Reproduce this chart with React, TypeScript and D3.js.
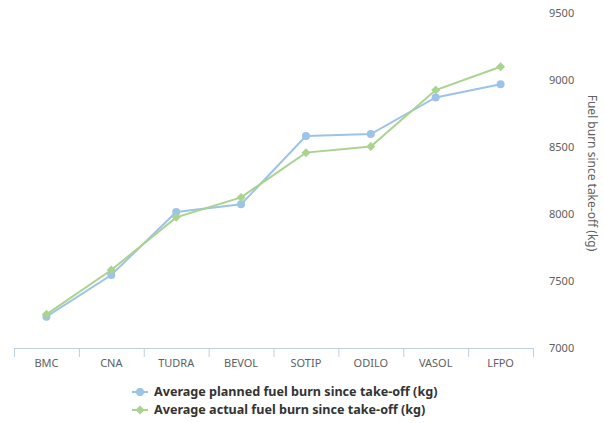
import React from "react";
import * as d3 from "d3";

const categories = ["BMC", "CNA", "TUDRA", "BEVOL", "SOTIP", "ODILO", "VASOL", "LFPO"];
const plannedValues = [7234, 7545, 8015, 8072, 8582, 8597, 8870, 8968];
const actualValues = [7251, 7582, 7975, 8124, 8458, 8503, 8925, 9099];
const yTicks = [7000, 7500, 8000, 8500, 9000, 9500];
const seriesNames = [
  "Average planned fuel burn since take-off (kg)",
  "Average actual fuel burn since take-off (kg)",
];
const yTitle = "Fuel burn since take-off (kg)";

const W = 605;
const H = 423;
const BLUE = "#9CC3E8";
const GREEN = "#A9D38E";
const FONT = "'Noto Sans', 'Open Sans', sans-serif";

export default function App() {
  const x = d3.scaleBand<string>().domain(categories).range([14, 533]);
  const y = d3.scaleLinear().domain([7000, 9500]).range([348, 13]);
  const cx = (c: string) => (x(c) as number) + x.bandwidth() / 2;
  const line = d3
    .line<number>()
    .x((_, i) => cx(categories[i]))
    .y((d) => y(d));
  const diamond = "M0,-4.5L4.5,0L0,4.5L-4.5,0Z";
  const boundaries = [...categories.map((c) => x(c) as number), 533];

  return (
    <svg
      width={W}
      height={H}
      style={{ position: "absolute", left: 0, top: 0, background: "#fff" }}
      fontFamily={FONT}
    >
      {/* x axis */}
      <line x1={14} x2={533} y1={348.5} y2={348.5} stroke="#C0D0E0" strokeWidth={1} />
      {boundaries.map((b, i) => (
        <line key={i} x1={b + 0.5} x2={b + 0.5} y1={348} y2={357} stroke="#C0D0E0" strokeWidth={1} />
      ))}
      {categories.map((c) => (
        <text key={c} x={cx(c)} y={367} textAnchor="middle" fontSize={11} fill="#606060">
          {c}
        </text>
      ))}
      {/* y axis labels */}
      {yTicks.map((t) => (
        <text key={t} x={549} y={y(t) + 4} textAnchor="start" fontSize={11} fill="#606060">
          {t}
        </text>
      ))}
      <text
        transform={`translate(588, 173) rotate(90)`}
        textAnchor="middle"
        fontSize={12}
        fill="#606060"
      >
        {yTitle}
      </text>
      {/* series */}
      <path d={line(plannedValues) as string} fill="none" stroke={BLUE} strokeWidth={2} />
      <path d={line(actualValues) as string} fill="none" stroke={GREEN} strokeWidth={2} />
      {plannedValues.map((v, i) => (
        <circle key={"p" + i} cx={cx(categories[i])} cy={y(v)} r={4} fill={BLUE} />
      ))}
      {actualValues.map((v, i) => (
        <path
          key={"a" + i}
          d={diamond}
          transform={`translate(${cx(categories[i])},${y(v)})`}
          fill={GREEN}
        />
      ))}
      {/* legend */}
      {seriesNames.map((n, i) => {
        const ly = 392 + i * 18;
        const col = i === 0 ? BLUE : GREEN;
        return (
          <g key={n}>
            <line x1={132} x2={148} y1={ly} y2={ly} stroke={col} strokeWidth={2} />
            {i === 0 ? (
              <circle cx={140} cy={ly} r={4} fill={col} />
            ) : (
              <path d={diamond} transform={`translate(140,${ly})`} fill={col} />
            )}
            <text x={154} y={ly + 4} fontSize={12.6} fontWeight="bold" fill="#333333">
              {n}
            </text>
          </g>
        );
      })}
    </svg>
  );
}
